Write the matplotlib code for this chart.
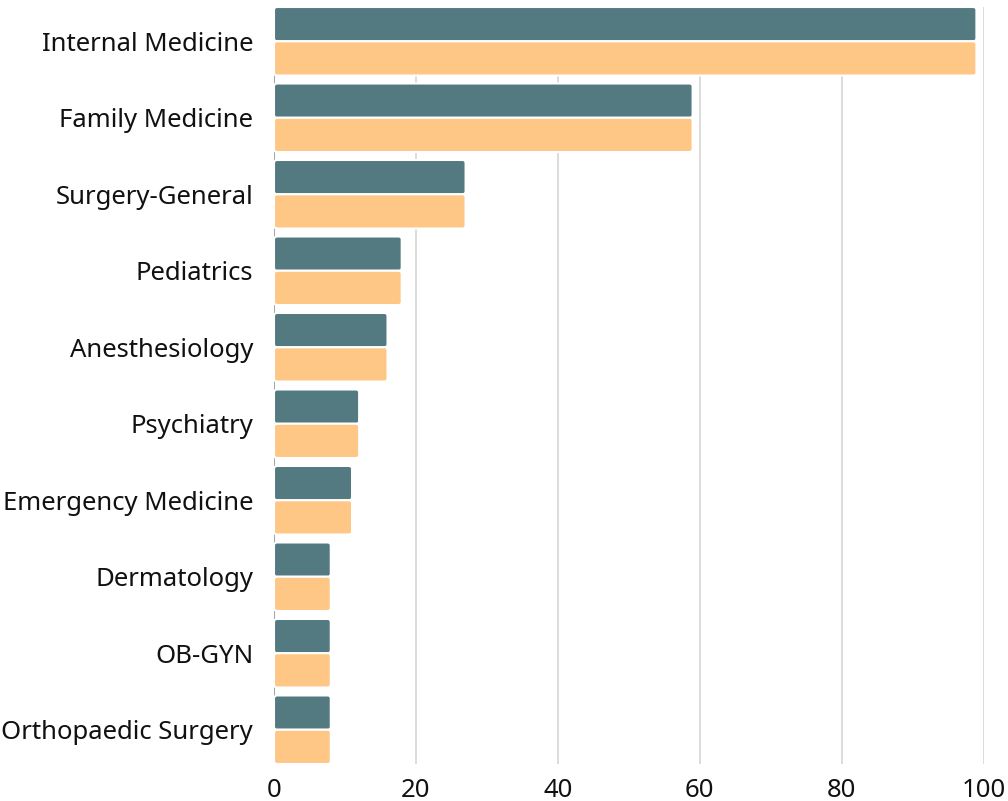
import matplotlib
matplotlib.use("Agg")
import matplotlib.pyplot as plt
from matplotlib.patches import FancyBboxPatch

categories = ["Internal Medicine", "Family Medicine", "Surgery-General", "Pediatrics",
              "Anesthesiology", "Psychiatry", "Emergency Medicine", "Dermatology",
              "OB-GYN", "Orthopaedic Surgery"]
series_a = [99, 59, 27, 18, 16, 12, 11, 8, 8, 8]
series_b = [99, 59, 27, 18, 16, 12, 11, 8, 8, 8]
xticks = [0, 20, 40, 60, 80, 100]

plt.rcParams['font.family'] = ['Noto Sans', 'DejaVu Sans']

fig = plt.figure(figsize=(10.08, 8.01), dpi=100)
ax = fig.add_axes([274/1008, (801-764)/801, 709.5/1008, 757/801])

h = 0.448
ys = list(range(len(categories)))
bars_a = ax.barh([y - h/2 for y in ys], series_a, height=h, color='#537a80')
bars_b = ax.barh([y + h/2 for y in ys], series_b, height=h, color='#ffc785')

# replace rectangles with slightly rounded ones
for bars in (bars_a, bars_b):
    for r in bars:
        x0, y0 = r.get_x(), r.get_y()
        w, hh = r.get_width(), r.get_height()
        fc = r.get_facecolor()
        r.set_visible(False)
        p = FancyBboxPatch((x0, y0), w, hh,
                           boxstyle="round,pad=0,rounding_size=0.45",
                           mutation_aspect=0.09,
                           facecolor=fc, edgecolor='white', linewidth=1.5, zorder=3)
        ax.add_patch(p)

ax.set_xlim(0, 100)
ax.set_ylim(len(categories) - 1 + h, -h)
ax.set_yticks(ys)
ax.set_yticklabels(categories)
ax.set_xticks(xticks)
ax.set_xticklabels([str(t) for t in xticks])

for t in xticks[1:]:
    ax.axvline(t, color='#d9d9d9', linewidth=1.3, zorder=1)
ax.axvline(0, color='#a6a6a6', linewidth=1.5, zorder=1)

for s in ax.spines.values():
    s.set_visible(False)
ax.tick_params(axis='y', length=0, pad=15, labelsize=18.5, labelcolor='#111111')
ax.tick_params(axis='x', length=0, pad=10, labelsize=18.5, labelcolor='#111111')

fig.savefig("out.png", dpi=100)
